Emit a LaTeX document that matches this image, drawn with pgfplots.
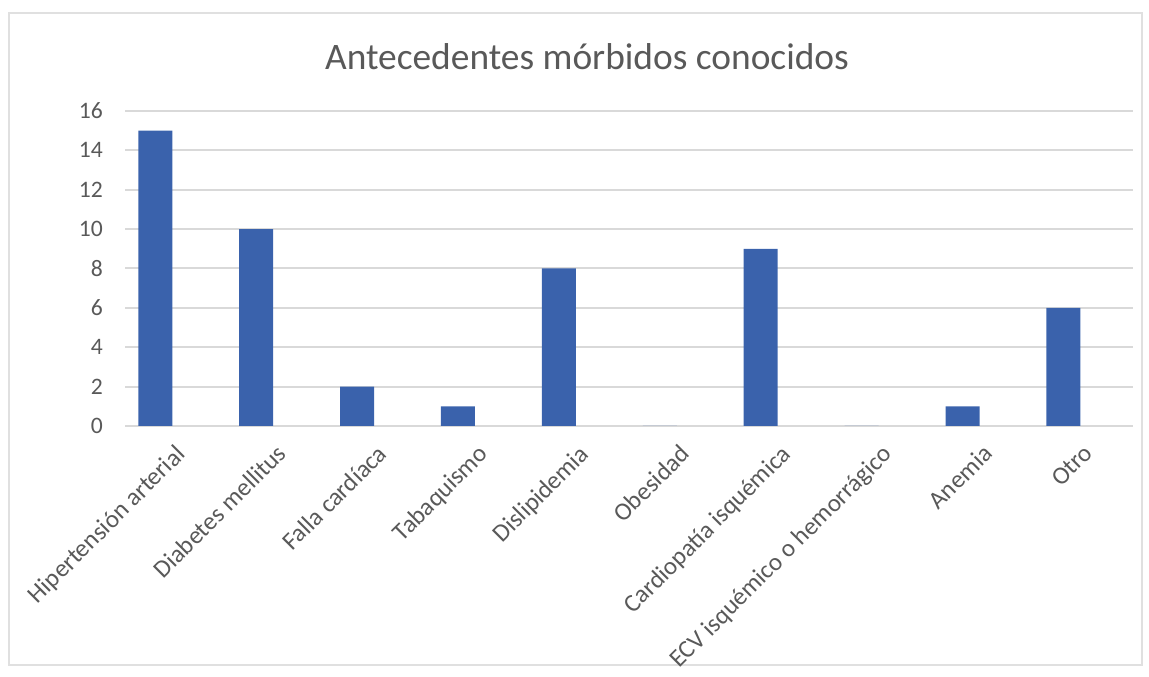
\documentclass[border=0pt]{standalone}
\usepackage{pgfplots}
\pgfplotsset{compat=1.18}
\usepackage{fontspec}
\setmainfont{Carlito}
\definecolor{barblue}{RGB}{58,98,172}
\definecolor{txt}{RGB}{89,89,89}
\definecolor{gridc}{RGB}{217,217,217}
\begin{document}
\begin{tikzpicture}
\path[use as bounding box] (0,0) rectangle (1149pt,677pt);
\draw[line width=1.5pt, color=black!12] (9pt,12pt) rectangle (1142pt,664pt);
\begin{axis}[
  at={(125pt,251pt)}, anchor=south west,
  scale only axis, width=1008pt, height=315pt,
  xmin=-0.3, xmax=9.69, ymin=0, ymax=16,
  ytick={0,2,...,16},
  xtick={0,...,9},
  xticklabels={Hipertensión arterial, Diabetes mellitus, Falla cardíaca, Tabaquismo, Dislipidemia, Obesidad, Cardiopatía isquémica, ECV isquémico o hemorrágico, Anemia, Otro},
  axis line style={draw=none},
  major tick length=0pt,
  ymajorgrids, grid style={line width=2pt, color=gridc},
  tick label style={text=txt},
  yticklabel style={font=\fontsize{23.6}{28}\selectfont, anchor=east, inner sep=0pt, xshift=-22pt},
  xticklabel style={font=\fontsize{25}{30}\selectfont, xshift=19pt, yshift=-17pt, rotate=45, anchor=north east, inner sep=0pt},
  /pgf/number format/assume math mode=true,
  clip=false,
]
\addplot[ybar, bar width=0.337, fill=barblue, draw=none] coordinates {(0,15) (1,10) (2,2) (3,1) (4,8) (5,0) (6,9) (7,0) (8,1) (9,6)};
\end{axis}
\node[font=\fontsize{37.4}{45}\selectfont, text=txt] at (587pt, 620pt) {Antecedentes mórbidos conocidos};
\end{tikzpicture}
\end{document}
